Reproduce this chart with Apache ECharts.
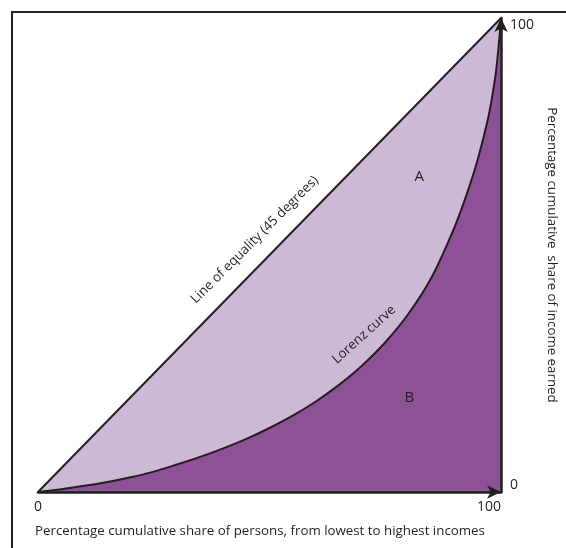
<!DOCTYPE html>
<html>
<head>
<meta charset="utf-8">
<script src="https://cdn.jsdelivr.net/npm/echarts@6/dist/echarts.min.js"></script>
<style>html,body{margin:0;padding:0;background:#fff}#c{width:566px;height:548px}</style>
</head>
<body>
<div id="c"></div>
<script>
const equalityX = [0, 100];
const equalityY = [0, 100];
const lorenzX = [0, 5, 10, 15, 20, 25, 30, 35, 40, 45, 50, 55, 60, 65, 70, 75, 80, 85, 90, 93, 95, 97, 98, 99, 100];
const lorenzY = [0, 0.6, 1.3, 2.1, 3.1, 4.3, 5.8, 7.4, 9.2, 11.2, 13.5, 16.1, 19.1, 22.6, 26.7, 31.6, 37.6, 45.3, 56.0, 64.0, 70.3, 78.0, 83.0, 89.5, 100];
const axisTicks = [0, 100];
const xTitle = 'Percentage cumulative share of persons, from lowest to highest incomes';
const yTitle = 'Percentage cumulative  share of income earned';
const annotations = [
  { text: 'A', x: 82.3, y: 66.5, rotate: 0 },
  { text: 'B', x: 80.2, y: 19.8, rotate: 0 },
  { text: 'Lorenz curve', x: 70.4, y: 33.2, rotate: 42 },
  { text: 'Line of equality (45 degrees)', x: 46.8, y: 53.2, rotate: 45 }
];

const FONT = 'Open Sans';
const INK = '#231f20';
const chart = echarts.init(document.getElementById('c'));
chart.setOption({
  animation: false,
  grid: { left: 38, top: 18, width: 474, height: 474 },
  xAxis: {
    type: 'value', min: axisTicks[0], max: axisTicks[1], interval: 100, z: 10,
    axisLine: { lineStyle: { color: INK, width: 2.5 }, symbol: ['none', 'arrow'], symbolSize: [10, 14] },
    axisTick: { show: false }, splitLine: { show: false },
    axisLabel: { color: INK, fontFamily: FONT, fontSize: 14, margin: 8, alignMaxLabel: 'right' }
  },
  yAxis: {
    type: 'value', position: 'right', min: axisTicks[0], max: axisTicks[1], interval: 100, z: 10,
    axisLine: { onZero: false, lineStyle: { color: INK, width: 2.5 }, symbol: ['none', 'arrow'], symbolSize: [10, 14] },
    axisTick: { show: false }, splitLine: { show: false },
    axisLabel: { color: INK, fontFamily: FONT, fontSize: 14, margin: 9, verticalAlignMinLabel: 'bottom', verticalAlignMaxLabel: 'top' },
    name: yTitle, nameLocation: 'middle', nameRotate: -90, nameGap: 33,
    nameTextStyle: { color: INK, fontFamily: FONT, fontSize: 13.3 }
  },
  graphic: [
    { type: 'rect', shape: { x: 12, y: 12, width: 600, height: 600 }, style: { fill: 'none', stroke: INK, lineWidth: 2 }, z: 0, silent: true },
    { type: 'text', left: 35, top: 525, style: { text: xTitle, fill: INK, font: '13.3px "' + FONT + '"' } }
  ],
  series: [
    {
      type: 'line', data: equalityX.map((x, i) => [x, equalityY[i]]), symbol: 'none',
      lineStyle: { color: INK, width: 2 }, areaStyle: { color: '#cdb8d5', opacity: 1 }, z: 2
    },
    {
      type: 'line', data: lorenzX.map((x, i) => [x, lorenzY[i]]), symbol: 'none', smooth: 0.3,
      lineStyle: { color: INK, width: 2 }, areaStyle: { color: '#8c5295', opacity: 1 }, z: 3,
      markPoint: {
        symbol: 'circle', symbolSize: 0, silent: true,
        data: annotations.map(a => ({
          coord: [a.x, a.y],
          label: { show: true, formatter: a.text, position: 'inside', rotate: a.rotate, color: INK, fontFamily: FONT, fontSize: a.text.length === 1 ? 15 : 13.3 }
        }))
      }
    }
  ]
});
</script>
</body>
</html>
